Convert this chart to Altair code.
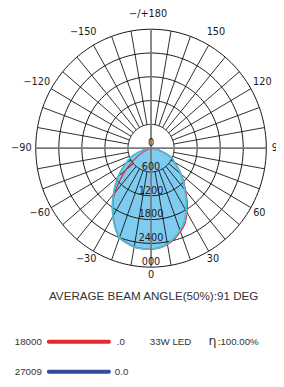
import math
import altair as alt
import pandas as pd

# ---------------- data (cd) ----------------
angles = [0, 5, 10, 15, 20, 25, 30, 35, 40, 45, 50, 55, 60, 65, 70, 75, 80, 85, 90]
# filled curve: left half (negative angles) and right half (positive angles)
fill_left = [2550, 2545, 2530, 2475, 2405, 2210, 1985, 1750, 1525, 1315, 1120, 925, 745, 620, 440, 250, 110, 35, 0]
fill_right = [2550, 2520, 2450, 2340, 2205, 2050, 1830, 1600, 1365, 1190, 1010, 845, 700, 610, 430, 245, 105, 30, 0]
# red curve
red_left = [2550, 2545, 2530, 2470, 2395, 2200, 1975, 1735, 1470, 1150, 860, 590, 380, 220, 110, 50, 20, 5, 0]
red_right = [2550, 2530, 2470, 2375, 2245, 2095, 1875, 1645, 1400, 1210, 1020, 850, 690, 590, 420, 230, 100, 30, 0]
# grey curve
grey_left = [2540, 2535, 2515, 2455, 2380, 2185, 1960, 1725, 1500, 1290, 1095, 900, 720, 600, 420, 235, 100, 30, 0]
grey_right = [2540, 2505, 2440, 2330, 2195, 2040, 1815, 1590, 1355, 1180, 1000, 835, 690, 600, 420, 235, 100, 30, 0]

ring_values = [600, 1200, 1800, 2400, 3000]
ring_label_values = [0, 600, 1200, 1800, 2400, 3000]
ring_label_text = ["0", "600", "1200", "1800", "2400", "000"]
angle_label_deg = [180, 150, 120, 90, 60, 30, 0, -30, -60, -90, -120, -150]
angle_label_text = ["\u2212/+180", "150", "120", "90", "60", "30", "0",
                    "\u221230", "\u221260", "\u221290", "\u2212120", "\u2212150"]
spoke_step = 10

beam_text = "AVERAGE BEAM ANGLE(50%):91 DEG"
legend_values = ["18000", "27009"]
legend_tails = [".0", "0.0"]
lamp_text = "33W LED"
eff_symbol = "\u03b7"
eff_text = ":100.00%"

# ---------------- tables ----------------
def curve(left, right):
    rows = []
    seq = [(-a, r) for a, r in zip(angles, left)][::-1] + [(a, r) for a, r in zip(angles, right)][1:]
    for i, (a, r) in enumerate(seq):
        t = math.radians(a)
        rows.append({"o": i, "x": r * math.sin(t), "y": -r * math.cos(t)})
    return pd.DataFrame(rows)

fill_df = curve(fill_left, fill_right)
red_df = curve(red_left, red_right)
grey_df = curve(grey_left, grey_right)

ring_rows = []
for R in ring_values:
    for k in range(0, 361, 2):
        t = math.radians(k)
        ring_rows.append({"ring": R, "o": k, "x": R * math.sin(t), "y": R * math.cos(t)})
ring_df = pd.DataFrame(ring_rows)

Rmin, Rmax = ring_values[0], ring_values[-1]
spoke_rows = []
for k in range(0, 360, spoke_step):
    if k % 90 == 0:
        continue
    t = math.radians(k)
    spoke_rows.append({"x": Rmin * math.sin(t), "y": Rmin * math.cos(t),
                       "x2": Rmax * math.sin(t), "y2": Rmax * math.cos(t)})
spoke_df = pd.DataFrame(spoke_rows)

axis_df = pd.DataFrame([
    {"x": 0, "y": -Rmax, "x2": 0, "y2": Rmax},
    {"x": -Rmax, "y": 0, "x2": Rmax, "y2": 0},
])

ring_lab_df = pd.DataFrame({"x": [0] * len(ring_label_values),
                            "y": [-v for v in ring_label_values],
                            "t": ring_label_text})

ang_rows = []
for a, s in zip(angle_label_deg, angle_label_text):
    t = math.radians(a)
    rl = 3300 - 90 * math.cos(t)
    ang_rows.append({"x": rl * math.sin(t), "y": -rl * math.cos(t), "t": s, "neg": a < 0 or a == 180})
ang_df = pd.DataFrame(ang_rows)

# ---------------- scales ----------------
W, H = 276, 379
kx, ky = 0.03957, 0.04083
cx, cy = 147.3, 138.7
xs = alt.Scale(domain=[-cx / kx, (W - cx) / kx], nice=False, zero=False)
ys = alt.Scale(domain=[(cy - H) / ky, cy / ky], nice=False, zero=False)
X = lambda f="x": alt.X(f"{f}:Q", scale=xs, axis=None)
Y = lambda f="y": alt.Y(f"{f}:Q", scale=ys, axis=None)

fill = alt.Chart(fill_df).mark_line(
    fill="#7fccf0", stroke="#4cbfd9", strokeWidth=1.6, interpolate="catmull-rom"
).encode(x=X(), y=Y(), order="o:Q")

rings = alt.Chart(ring_df).mark_line(color="#111111", strokeWidth=1).encode(
    x=X(), y=Y(), detail="ring:N", order="o:Q")

spokes = alt.Chart(spoke_df).mark_rule(color="#111111", strokeWidth=0.9).encode(
    x=X(), y=Y(), x2="x2:Q", y2="y2:Q")

grey_line = alt.Chart(grey_df).mark_line(
    color="#8a9e9a", strokeWidth=1, interpolate="catmull-rom").encode(x=X(), y=Y(), order="o:Q")
red_line = alt.Chart(red_df).mark_line(
    color="#e8262b", strokeWidth=1.1, interpolate="catmull-rom").encode(x=X(), y=Y(), order="o:Q")
fill_edge = alt.Chart(fill_df).mark_line(
    color="#4cbfd9", strokeWidth=1.6, interpolate="catmull-rom").encode(x=X(), y=Y(), order="o:Q")

axes = alt.Chart(axis_df).mark_rule(color="#7a7a7a", strokeWidth=1.8).encode(
    x=X(), y=Y(), x2="x2:Q", y2="y2:Q")

ring_labels = alt.Chart(ring_lab_df).mark_text(
    font="DejaVu Sans", fontSize=10, color="#1a1a1a", baseline="alphabetic", dy=-2.3
).encode(x=X(), y=Y(), text="t:N")

ang_pos = alt.Chart(ang_df[~ang_df["neg"]]).mark_text(
    font="DejaVu Sans", fontSize=10, color="#1a1a1a", baseline="middle"
).encode(x=X(), y=Y(), text="t:N")
ang_neg = alt.Chart(ang_df[ang_df["neg"]]).mark_text(
    font="DejaVu Sans", fontSize=10, color="#1a1a1a", baseline="middle", dx=-3
).encode(x=X(), y=Y(), text="t:N")

one = pd.DataFrame({"k": [0]})
def txt(s, x, y, size=10, align="left", font="Liberation Sans", color="#333333"):
    return alt.Chart(one).mark_text(text=s, font=font, fontSize=size, align=align,
                                    baseline="middle", color=color).encode(
        x=alt.value(x), y=alt.value(y))

def leg_line(color, y):
    return alt.Chart(one).mark_rule(color=color, strokeWidth=4, strokeCap="round").encode(
        x=alt.value(42), x2=alt.value(104), y=alt.value(y))

bottom = [
    txt(beam_text, 150, 291.5, size=12, align="center"),
    txt(legend_values[0], 7, 338),
    leg_line("#e8262b", 338),
    txt(legend_tails[0], 112, 338),
    txt(lamp_text, 146, 338),
    txt(eff_symbol, 206.5, 337, size=13, font="DejaVu Sans"),
    txt(eff_text, 216, 338),
    txt(legend_values[1], 7, 369),
    leg_line("#2f4d9b", 369),
    txt(legend_tails[1], 110, 369),
]

chart = alt.layer(
    fill, rings, spokes, grey_line, red_line, fill_edge, axes,
    ring_labels, ang_pos, ang_neg, *bottom
).properties(width=W, height=H, padding=0, autosize="none").configure_view(stroke=None)

chart.save("out.html", embed_options={"renderer": "svg", "actions": False})
